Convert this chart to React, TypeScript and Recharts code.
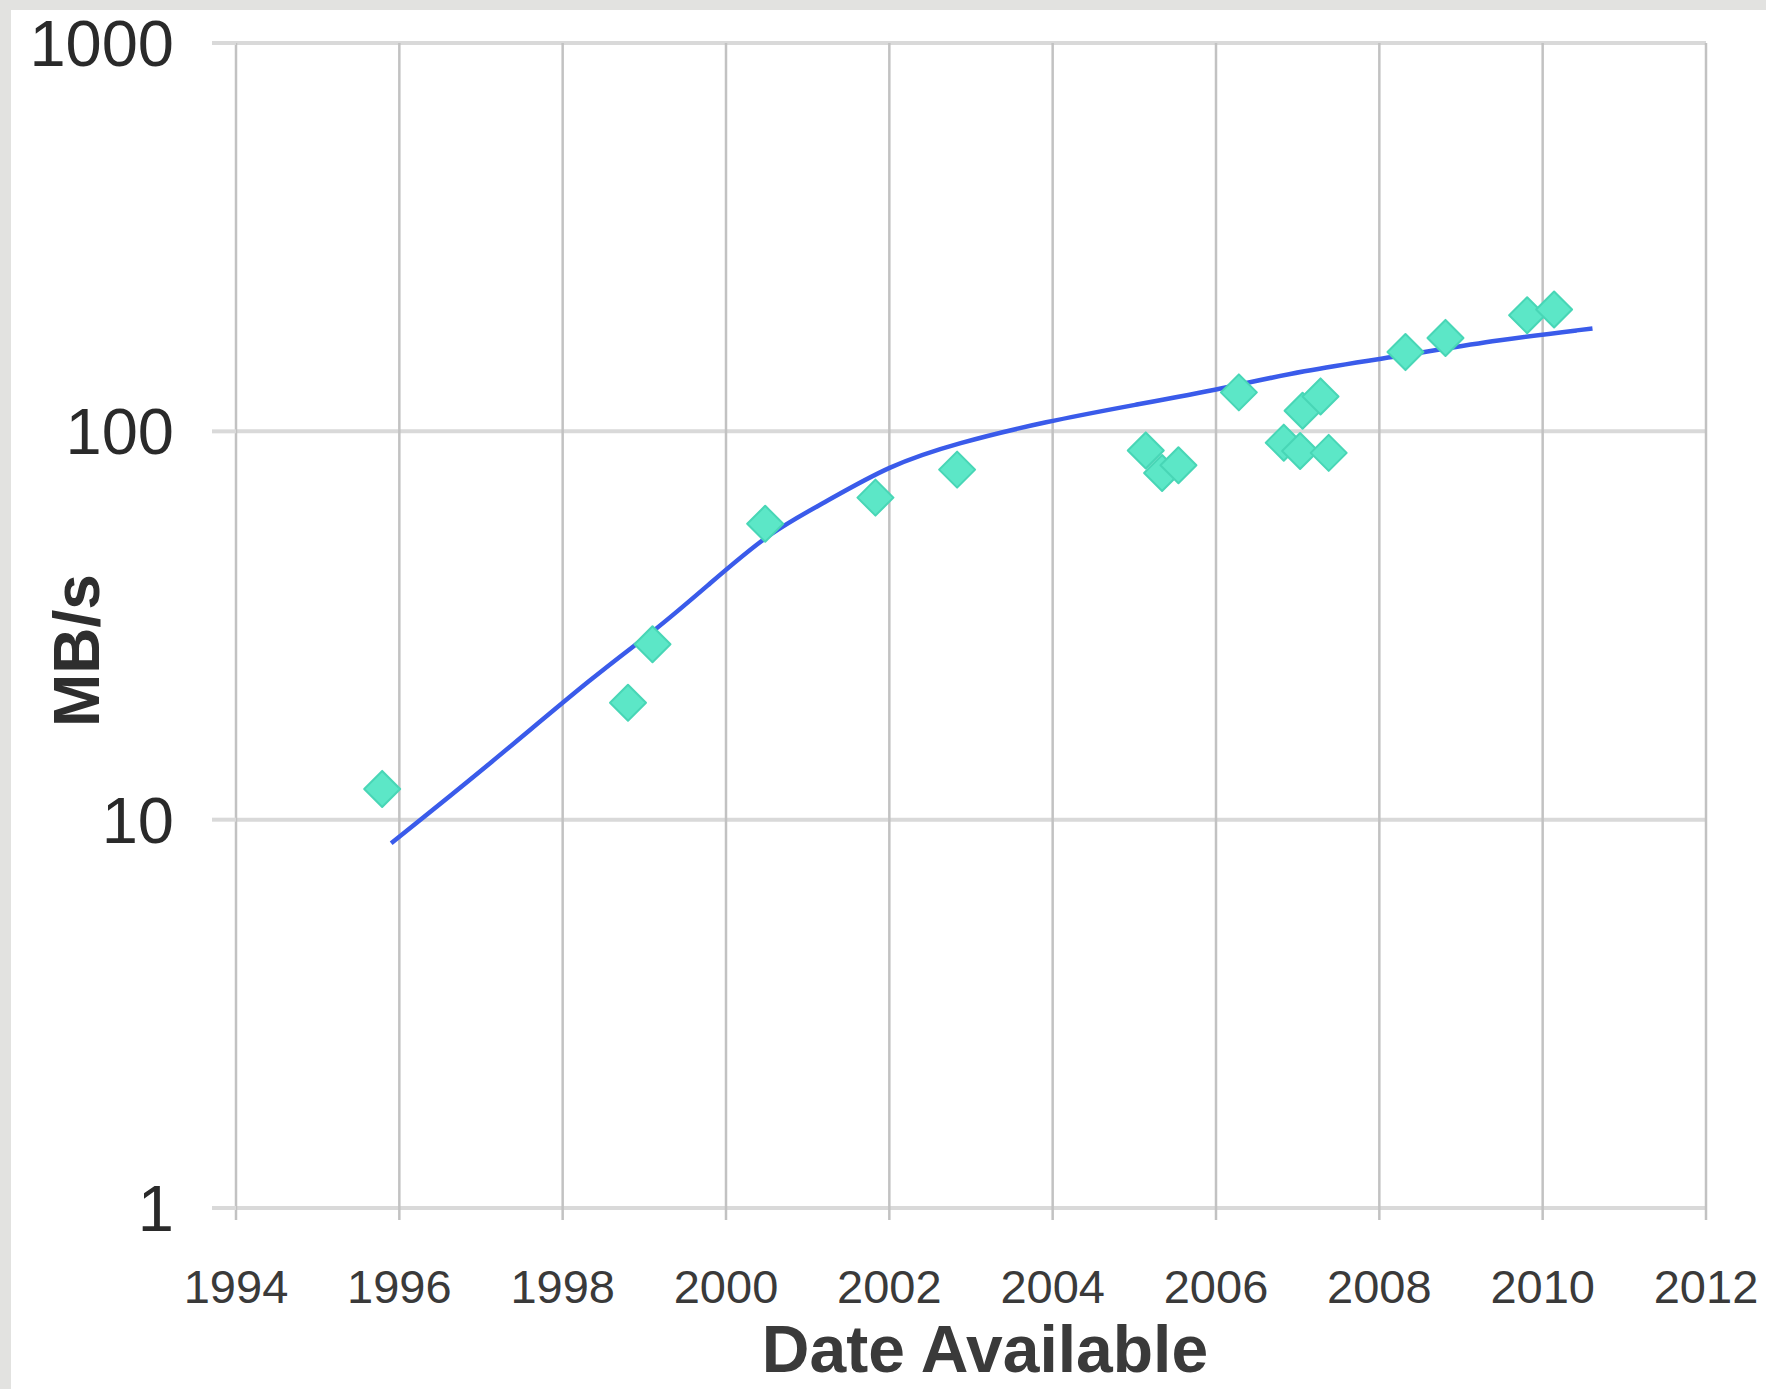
import React from "react";
import {
  ComposedChart, Line, Scatter, XAxis, YAxis, CartesianGrid, Label,
} from "recharts";

// trend line
const trendYears = [1995.9, 1997.0, 1998.45, 1999.1, 1999.76, 2000.52, 2001.19, 2002.0, 2002.83, 2003.92, 2005.01, 2006.1, 2007.02, 2008.32, 2009.45, 2010.61];
const trendValues = [8.7, 13.3, 24.1, 30.3, 39.8, 54.8, 65.2, 81.8, 93.3, 106, 117, 129, 143, 157, 172, 184];

// measured drives
const pointYears = [1995.79, 1998.8, 1999.1, 2000.48, 2001.83, 2002.83, 2005.14, 2005.34, 2005.54, 2006.28, 2006.83, 2007.03, 2007.06, 2007.28, 2007.38, 2008.32, 2008.81, 2009.81, 2010.14];
const pointValues = [12, 20, 28.3, 57.8, 67.5, 79.7, 89.3, 78.1, 81.8, 126, 93.5, 89, 113, 123, 88, 160, 174, 199, 206];

const xTicks = [1994, 1996, 1998, 2000, 2002, 2004, 2006, 2008, 2010, 2012];
const yTicks = [1, 10, 100, 1000];

const trendData = trendYears.map((year, i) => ({ year, mbs: trendValues[i] }));
const pointData = pointYears.map((year, i) => ({ year, mbs: pointValues[i] }));

const FONT = "'Liberation Sans', Arial, Helvetica, sans-serif";

function Diamond(props: { cx?: number; cy?: number }) {
  const { cx, cy } = props;
  if (cx == null || cy == null) return null;
  const r = 18;
  return (
    <path
      d={`M${cx},${cy - r} L${cx + r},${cy} L${cx},${cy + r} L${cx - r},${cy} Z`}
      fill="#5ce7c7"
      stroke="#48d6b6"
      strokeWidth={2}
      strokeLinejoin="round"
    />
  );
}

export default function App() {
  return (
    <div style={{ position: "absolute", left: 0, top: 0, width: 1766, height: 1389, background: "#e2e2e0" }}>
      <div style={{ position: "absolute", left: 11, top: 10, right: 0, bottom: 0, background: "#ffffff" }} />
      <div style={{ position: "absolute", left: 0, top: 0 }}>
        <ComposedChart width={1766} height={1389} margin={{ top: 43, right: 60, bottom: 0, left: 0 }}>
          <CartesianGrid vertical={false} stroke="#d9d9d9" strokeWidth={4} />
          <CartesianGrid horizontal={false} stroke="#c2c2c2" strokeWidth={2.5} />
          <XAxis
            type="number"
            dataKey="year"
            domain={[1994, 2012]}
            ticks={xTicks}
            allowDataOverflow
            height={181}
            axisLine={false}
            tickLine={{ stroke: "#c2c2c2", strokeWidth: 2.5 }}
            tickSize={12}
            tickMargin={50}
            tick={{ fontSize: 47, fill: "#3a3a3a", fontFamily: FONT }}
          >
            <Label
              content={({ viewBox }: any) => (
                <text
                  x={viewBox.x + viewBox.width / 2 + 14}
                  y={1372}
                  textAnchor="middle"
                  fontSize={66}
                  fontWeight="bold"
                  fill="#3a3a3a"
                  fontFamily={FONT}
                >
                  Date Available
                </text>
              )}
            />
          </XAxis>
          <YAxis
            type="number"
            dataKey="mbs"
            scale="log"
            domain={[1, 1000]}
            ticks={yTicks}
            allowDataOverflow
            width={236}
            axisLine={false}
            tickLine={{ stroke: "#d9d9d9", strokeWidth: 4 }}
            tickSize={24}
            tickMargin={38}
            tick={{ fontSize: 65, fill: "#2a2a2a", fontFamily: FONT }}
          >
            <Label
              content={({ viewBox }: any) => {
                const cx = 77;
                const cy = viewBox.y + viewBox.height / 2 + 25;
                return (
                  <text
                    x={cx}
                    y={cy}
                    transform={`rotate(-90 ${cx} ${cy})`}
                    textAnchor="middle"
                    dominantBaseline="central"
                    fontSize={64}
                    fontWeight="bold"
                    fill="#2e2e2e"
                    fontFamily={FONT}
                  >
                    MB/s
                  </text>
                );
              }}
            />
          </YAxis>
          <Scatter data={pointData} dataKey="mbs" shape={<Diamond />} isAnimationActive={false} />
          <Line
            data={trendData}
            dataKey="mbs"
            type="basis"
            stroke="#3a5bea"
            strokeWidth={4.5}
            dot={false}
            activeDot={false}
            isAnimationActive={false}
          />
        </ComposedChart>
      </div>
    </div>
  );
}
